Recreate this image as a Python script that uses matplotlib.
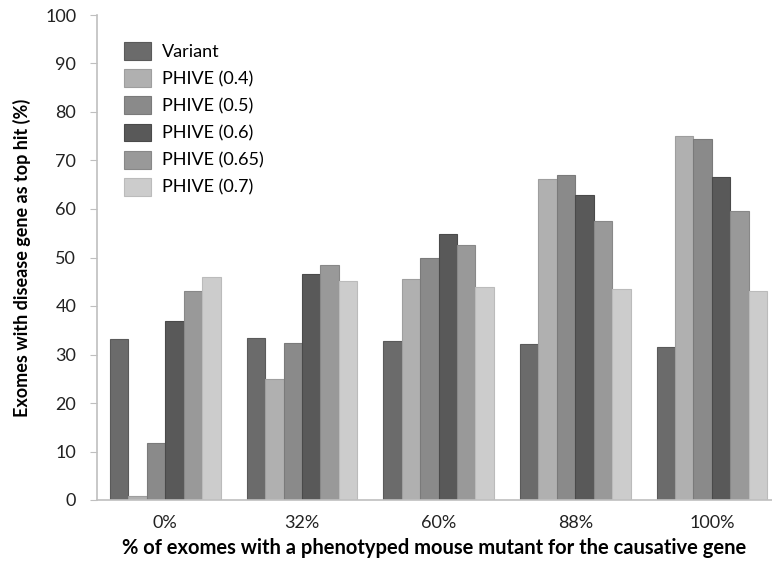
import numpy as np
import matplotlib
matplotlib.use("Agg")
import matplotlib.pyplot as plt

plt.rcParams['font.family'] = ['Lato', 'DejaVu Sans']

# data
groups = ['0%', '32%', '60%', '88%', '100%']
series = ['Variant', 'PHIVE (0.4)', 'PHIVE (0.5)', 'PHIVE (0.6)', 'PHIVE (0.65)', 'PHIVE (0.7)']
variant = [33.2, 33.3, 32.8, 32.1, 31.6]
phive_04 = [0.9, 24.9, 45.6, 66.1, 75.1]
phive_05 = [11.7, 32.3, 50.0, 67.1, 74.4]
phive_06 = [37.0, 46.7, 54.8, 62.8, 66.6]
phive_065 = [43.0, 48.5, 52.6, 57.6, 59.6]
phive_07 = [46.0, 45.2, 44.0, 43.5, 43.1]
values = [variant, phive_04, phive_05, phive_06, phive_065, phive_07]
colors = ['#6b6b6b', '#b0b0b0', '#8a8a8a', '#595959', '#999999', '#cccccc']
edges = ['#5a5a5a', '#9e9e9e', '#7a7a7a', '#4a4a4a', '#888888', '#bbbbbb']

fig = plt.figure(figsize=(7.72, 5.69), dpi=100)
ax = fig.add_axes([97 / 772, 69 / 569, 1 - 97 / 772, 485 / 569])

x = np.arange(len(groups))
w = 0.135
for i, (name, vals) in enumerate(zip(series, values)):
    ax.bar(x + (i - 2.5) * w, vals, w, color=colors[i], edgecolor=edges[i],
           linewidth=0.8, label=name)

ax.set_ylim(0, 100)
ax.set_xlim(-0.5, 4.44)
ax.set_yticks(range(0, 101, 10))
ax.set_xticks(x)
ax.set_xticklabels(groups)
ax.tick_params(axis='x', length=0, pad=11, labelsize=13, colors='#222222')
ax.tick_params(axis='y', length=5, pad=10, labelsize=13, colors='#bfbfbf',
               labelcolor='#222222')

for s in ['top', 'right']:
    ax.spines[s].set_visible(False)
for s in ['left', 'bottom']:
    ax.spines[s].set_color('#bfbfbf')
    ax.spines[s].set_linewidth(1.2)

ax.set_ylabel('Exomes with disease gene as top hit (%)', fontsize=13,
              fontweight='bold', labelpad=10)
ax.set_xlabel('% of exomes with a phenotyped mouse mutant for the causative gene',
              fontsize=14.5, fontweight='bold', labelpad=5)

leg = ax.legend(loc='upper left', bbox_to_anchor=(108 / 772, 1 - 26 / 569),
                bbox_transform=fig.transFigure, frameon=False, fontsize=13,
                handlelength=1.5, handleheight=1.15, labelspacing=0.5,
                handletextpad=0.6)

fig.savefig('out.png', dpi=100)
